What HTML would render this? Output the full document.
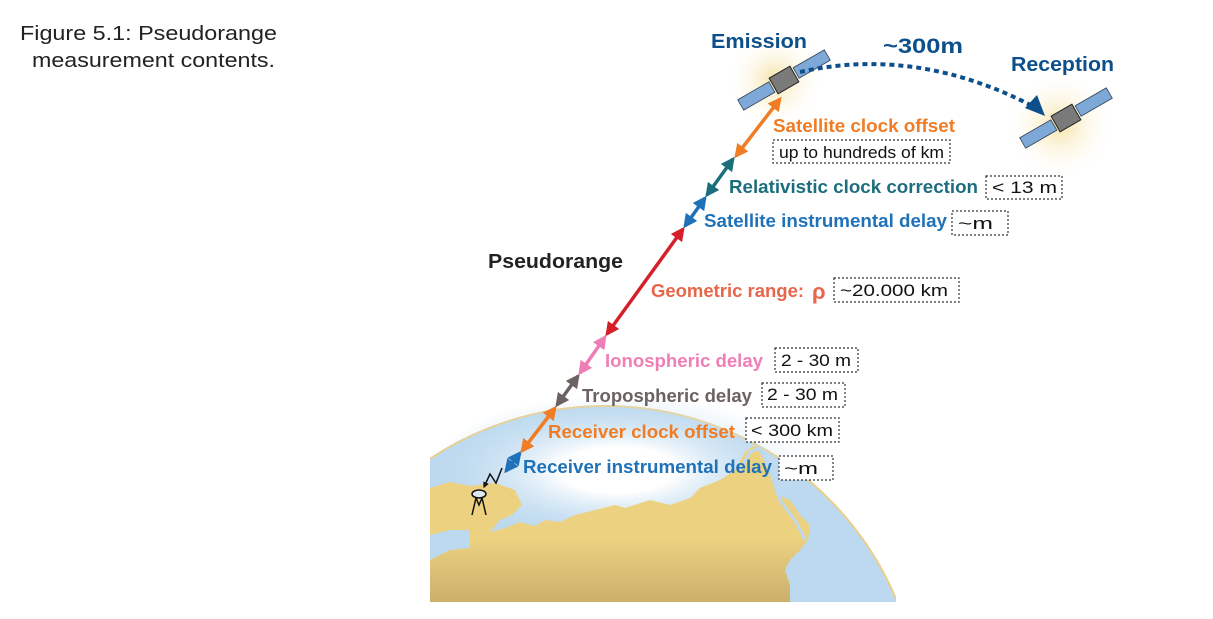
<!DOCTYPE html>
<html><head><meta charset="utf-8"><style>
html,body{margin:0;padding:0;background:#fff;width:1213px;height:619px;overflow:hidden}
svg{position:absolute;left:0;top:0;display:block}
text{font-family:"Liberation Sans",sans-serif}
.b{font-weight:bold;font-size:18px}
.box{fill:#fff;stroke:#333;stroke-width:1.2;stroke-dasharray:2 2}
.v{font-size:17px;fill:#111}
.cap{font-size:20px;fill:#222}
</style></head><body>
<svg width="1213" height="619" viewBox="0 0 1213 619">
<defs>
<clipPath id="cl"><rect x="430" y="300" width="466" height="302"/></clipPath>
<radialGradient id="sea" cx="0.48" cy="0.5" r="0.5"><stop offset="0.3" stop-color="#ffffff"/><stop offset="1" stop-color="#bcd9ef" stop-opacity="0"/></radialGradient>
<radialGradient id="glow"><stop offset="0" stop-color="#f6e3a6"/><stop offset="1" stop-color="#fff" stop-opacity="0"/></radialGradient>
<linearGradient id="land" x1="0" y1="0" x2="0" y2="1"><stop offset="0.6" stop-color="#ecd181"/><stop offset="1" stop-color="#cbb06b"/></linearGradient>
<marker id="ah" viewBox="0 0 10 10" refX="8" refY="5" markerWidth="4" markerHeight="4" orient="auto-start-reverse"><path d="M0,0L10,5L0,10z" fill="context-stroke"/></marker>
</defs>
<text x="20" y="40" class="cap" textLength="257" lengthAdjust="spacingAndGlyphs">Figure 5.1: Pseudorange</text>
<text x="32" y="67" class="cap" textLength="243" lengthAdjust="spacingAndGlyphs">measurement contents.</text>
<g clip-path="url(#cl)">
<circle cx="605" cy="722" r="316" fill="#bcd9ef" stroke="#e9cf8b" stroke-width="2"/>
<ellipse cx="625" cy="470" rx="190" ry="75" fill="url(#sea)"/>
<path d="M430,488 L450,482 L470,486 L495,483 L515,490 L522,505 L512,515 L500,520 L490,532 L505,528 L520,522 L535,526 L545,520 L560,522 L575,515 L595,510 L615,505 L625,508 L650,500 L670,505 L690,498 L700,488 L720,480 L735,470 L745,452 L755,445 L765,462 L772,480 L776,495 L790,500 L800,515 L810,525 L808,540 L800,550 L790,560 L785,570 L790,585 L790,602 L430,602 Z" fill="url(#land)"/>
<path d="M740,470 L750,452 L760,448 L770,470 L780,500 L795,520 L805,540" fill="none" stroke="#bcd9ef" stroke-width="3"/>
<path d="M430,560 L450,550 L470,548 L470,530 L450,530 L430,535" fill="#bcd9ef"/>
</g>
<g stroke="#111" stroke-width="1.5" fill="none">
<ellipse cx="479" cy="494" rx="7" ry="4" fill="#dde8ef"/>
<path d="M476,498 L472,515 M482,498 L486,515 M476,498 L479,505 L482,498"/>
<path d="M502,468 L496,483 L490,474 L484,487" marker-end="url(#ah)"/>
</g>
<circle cx="775" cy="80" r="50" fill="url(#glow)"/>
<circle cx="1060" cy="125" r="55" fill="url(#glow)"/>
<g transform="translate(784,80) rotate(-30)">
<rect x="-50" y="-6" width="36" height="12" fill="#7ea8d8" stroke="#345" stroke-width="0.8"/>
<rect x="14" y="-6" width="36" height="12" fill="#7ea8d8" stroke="#345" stroke-width="0.8"/>
<rect x="-12" y="-9" width="24" height="18" fill="#7a7a7a" stroke="#222"/>
</g>
<g transform="translate(1066,118) rotate(-30)">
<rect x="-50" y="-6" width="36" height="12" fill="#7ea8d8" stroke="#345" stroke-width="0.8"/>
<rect x="14" y="-6" width="36" height="12" fill="#7ea8d8" stroke="#345" stroke-width="0.8"/>
<rect x="-12" y="-9" width="24" height="18" fill="#7a7a7a" stroke="#222"/>
</g>
<path d="M800,72 Q920,45 1040,110" fill="none" stroke="#0d4f8b" stroke-width="4" stroke-dasharray="5 4"/>
<path d="M1045,116 L1025,108 L1037,95 Z" fill="#0d4f8b"/>
<g stroke-width="3.5" fill="none">
<line x1="506" y1="471" x2="520" y2="453" stroke="#1f72b8" marker-start="url(#ah)" marker-end="url(#ah)"/>
<line x1="522" y1="451" x2="555" y2="408" stroke="#f07c26" marker-start="url(#ah)" marker-end="url(#ah)"/>
<line x1="557" y1="405" x2="578" y2="376" stroke="#6d6262" marker-start="url(#ah)" marker-end="url(#ah)"/>
<line x1="580" y1="373" x2="605" y2="337" stroke="#f07eb6" marker-start="url(#ah)" marker-end="url(#ah)"/>
<line x1="607" y1="334" x2="683" y2="229" stroke="#d51f2a" marker-start="url(#ah)" marker-end="url(#ah)"/>
<line x1="685" y1="226" x2="705" y2="198" stroke="#1f72b8" marker-start="url(#ah)" marker-end="url(#ah)"/>
<line x1="707" y1="195" x2="733" y2="159" stroke="#1c6e7d" marker-start="url(#ah)" marker-end="url(#ah)"/>
<line x1="736" y1="156" x2="780" y2="99" stroke="#f07c26" marker-start="url(#ah)" marker-end="url(#ah)"/>
</g>
<text x="711" y="48" class="b" style="font-size:20px" textLength="96" lengthAdjust="spacingAndGlyphs" fill="#0d4f8b">Emission</text>
<text x="883" y="53" class="b" style="font-size:21px" textLength="80" lengthAdjust="spacingAndGlyphs" fill="#0d4f8b">~300m</text>
<text x="1011" y="71" class="b" style="font-size:20px" textLength="103" lengthAdjust="spacingAndGlyphs" fill="#0d4f8b">Reception</text>
<text x="488" y="268" class="b" style="font-size:20px" textLength="135" lengthAdjust="spacingAndGlyphs" fill="#222">Pseudorange</text>
<text x="773" y="132" class="b" textLength="182" lengthAdjust="spacingAndGlyphs" fill="#f07c26">Satellite clock offset</text>
<rect x="773" y="140" width="177" height="23" class="box"/><text x="779" y="158" class="v" textLength="165" lengthAdjust="spacingAndGlyphs">up to hundreds of km</text>
<text x="729" y="193" class="b" textLength="249" lengthAdjust="spacingAndGlyphs" fill="#1c6e7d">Relativistic clock correction</text>
<rect x="986" y="176" width="76" height="23" class="box"/><text x="992" y="193" class="v" textLength="65" lengthAdjust="spacingAndGlyphs">&lt; 13 m</text>
<text x="704" y="227" class="b" textLength="243" lengthAdjust="spacingAndGlyphs" fill="#1f72b8">Satellite instrumental delay</text>
<rect x="952" y="211" width="56" height="24" class="box"/><text x="958" y="229" class="v" textLength="35" lengthAdjust="spacingAndGlyphs">~m</text>
<text x="651" y="297" class="b" textLength="153" lengthAdjust="spacingAndGlyphs" fill="#e8664a">Geometric range:</text>
<text x="812" y="299" class="b" style="font-size:22px" fill="#e8664a">ρ</text>
<rect x="834" y="278" width="125" height="24" class="box"/><text x="840" y="296" class="v" textLength="108" lengthAdjust="spacingAndGlyphs">~20.000 km</text>
<text x="605" y="367" class="b" textLength="158" lengthAdjust="spacingAndGlyphs" fill="#f07eb6">Ionospheric delay</text>
<rect x="775" y="348" width="83" height="24" class="box"/><text x="781" y="366" class="v" textLength="70" lengthAdjust="spacingAndGlyphs">2 - 30 m</text>
<text x="582" y="402" class="b" textLength="170" lengthAdjust="spacingAndGlyphs" fill="#6d6262">Tropospheric delay</text>
<rect x="762" y="383" width="83" height="24" class="box"/><text x="767" y="400" class="v" textLength="71" lengthAdjust="spacingAndGlyphs">2 - 30 m</text>
<text x="548" y="438" class="b" textLength="187" lengthAdjust="spacingAndGlyphs" fill="#f07c26">Receiver clock offset</text>
<rect x="746" y="418" width="93" height="24" class="box"/><text x="751" y="436" class="v" textLength="82" lengthAdjust="spacingAndGlyphs">&lt; 300 km</text>
<text x="523" y="473" class="b" textLength="249" lengthAdjust="spacingAndGlyphs" fill="#1f72b8">Receiver instrumental delay</text>
<rect x="779" y="456" width="54" height="24" class="box"/><text x="784" y="474" class="v" textLength="34" lengthAdjust="spacingAndGlyphs">~m</text>
</svg>
</body></html>
